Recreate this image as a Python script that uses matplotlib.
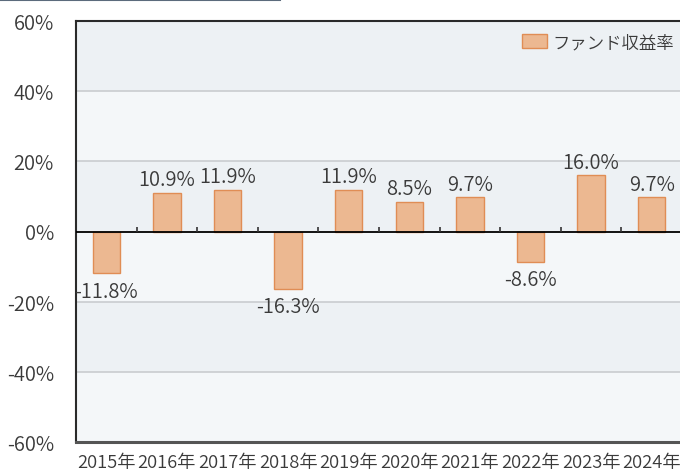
import matplotlib
matplotlib.use("Agg")
import matplotlib.pyplot as plt
from matplotlib.patches import Patch
from matplotlib.lines import Line2D

plt.rcParams['font.family'] = ['Noto Sans CJK JP', 'DejaVu Sans']
plt.rcParams['font.weight'] = 350

years = ["2015年", "2016年", "2017年", "2018年", "2019年",
         "2020年", "2021年", "2022年", "2023年", "2024年"]
returns = [-11.8, 10.9, 11.9, -16.3, 11.9, 8.5, 9.7, -8.6, 16.0, 9.7]
yticks = [-60, -40, -20, 0, 20, 40, 60]
series_name = "ファンド収益率"

bar_face = "#ecb891"
bar_edge = "#e08d55"
dark_band = "#edf1f4"
light_band = "#f4f7f9"
text_color = "#3a3a3a"

fig = plt.figure(figsize=(6.8, 4.77), dpi=100)
ax = fig.add_axes([76/680, 1 - 443/477, 606/680, (443 - 22)/477])

ax.set_xlim(-0.5, len(years) - 0.5)
ax.set_ylim(-60, 60)

# background bands
for i, (lo, hi) in enumerate(zip(yticks[:-1], yticks[1:])):
    color = light_band if i % 2 == 0 else dark_band
    ax.axhspan(lo, hi, color=color, zorder=0, lw=0)

# grid lines
for y in yticks[1:-1]:
    if y != 0:
        ax.axhline(y, color="#c9cccf", lw=1.2, zorder=1)

x = list(range(len(years)))
bars = ax.bar(x, returns, width=0.45, color=bar_face, edgecolor=bar_edge,
              linewidth=1.0, zorder=3)

ax.axhline(0, color="black", lw=1.3, zorder=4)
# small boundary ticks on the zero line
tick_h = 5 * 120 / 421
for i in range(len(years) - 1):
    ax.plot([i + 0.5, i + 0.5], [0, tick_h], color="#333333", lw=1.2, zorder=4,
            solid_capstyle="butt")

# data labels
for xi, v in zip(x, returns):
    if v >= 0:
        ax.text(xi, v + 0.8, f"{v:.1f}%", ha="center", va="bottom",
                fontsize=14.5, color=text_color, zorder=5)
    else:
        ax.text(xi, v - 2.2, f"{v:.1f}%", ha="center", va="top",
                fontsize=14.5, color=text_color, zorder=5)

ax.set_yticks(yticks)
ax.set_yticklabels([f"{t}%" for t in yticks], fontsize=14.5, color=text_color)
ax.set_xticks(x)
ax.set_xticklabels(years, fontsize=13.2, color=text_color)
ax.tick_params(axis="y", length=0, pad=16)
ax.tick_params(axis="x", length=0, pad=8)

for side in ["top", "left", "bottom"]:
    ax.spines[side].set_color("#2a2a2a")
    ax.spines[side].set_linewidth(1.5)
ax.spines["bottom"].set_color("#555555")
ax.spines["bottom"].set_linewidth(2.2)
ax.spines["right"].set_visible(False)

handle = Patch(facecolor=bar_face, edgecolor=bar_edge, linewidth=1.0)
leg = fig.legend([handle], [series_name], loc="upper right",
                 bbox_to_anchor=(674/680, 1 - 34/477), frameon=False,
                 fontsize=12.5, handlelength=1.45, handleheight=0.85,
                 handletextpad=0.3, borderaxespad=0, borderpad=0)
for t in leg.get_texts():
    t.set_color(text_color)

# decorative top line
fig.add_artist(Line2D([0, 280/680], [1 - 1/477, 1 - 1/477],
                      color="#5c6b7c", lw=1.5, transform=fig.transFigure))

fig.savefig("out.png", dpi=100)
